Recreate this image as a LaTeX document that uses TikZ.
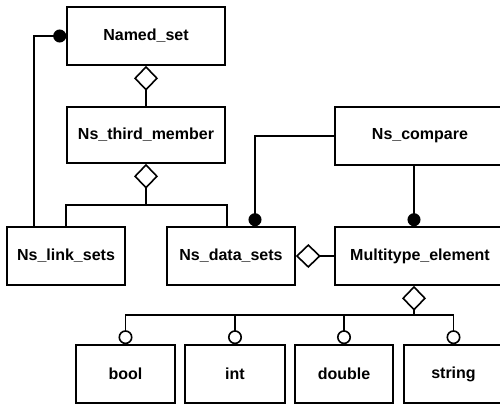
\documentclass[tikz,border=0pt]{standalone}
\usepackage{fontspec}
\setmainfont{Liberation Sans}
\usetikzlibrary{arrows.meta}

\begin{document}
\begin{tikzpicture}[x=1pt, y=-1pt, line width=1.6pt,
  cls/.style={draw, rectangle, minimum height=58pt, inner sep=2pt, font=\fontsize{16}{19}\selectfont\bfseries},
  agg/.style={{Diamond[open,length=25pt,width=24pt]}-},
  dot/.style={-{Circle[length=13pt]}},
  opt/.style={-{Circle[open,length=14pt]}}]
\useasboundingbox (0,0) rectangle (500,405);
\node[cls, minimum width=158pt](ns) at (146,36){Named\_set};
\node[cls, minimum width=158pt, minimum height=56pt](tm) at (146,135){Ns\_third\_member};
\node[cls, minimum width=118pt](ls) at (66,256){Ns\_link\_sets};
\node[cls, minimum width=128pt](ds) at (231,256){Ns\_data\_sets};
\node[cls, minimum width=170pt](me) at (420,256){Multitype\_element};
\node[cls, minimum width=170pt](cmp) at (420,136){Ns\_compare};
\node[cls, minimum width=99pt](bool) at (125.5,374){bool};
\node[cls, minimum width=100pt](int) at (235,374){int};
\node[cls, minimum width=98pt](dbl) at (344,374){double};
\node[cls, minimum width=99pt](str) at (453.5,374){string};
\coordinate (j1) at (146,205);
\coordinate (j2) at (414,315);
% aggregation
\draw[agg] (ns.south) -- (tm.north);
\draw[agg] (tm.south) -- (j1);
\draw (ls.north) |- (j1) -| ([xshift=-4pt]ds.north);
\draw[agg] (ds.east) -- (me.west);
\draw[agg] ([xshift=-6pt]me.south) -- (j2);
% links
\draw[dot] ([xshift=28pt]ls.north west) |- (ns.west);
\draw[dot] (cmp.west) -| ([xshift=24pt]ds.north);
\draw[dot] ([xshift=-6pt]cmp.south) -- ([xshift=-6pt]me.north);
% types
\draw[opt] (j2) -| (bool.north);
\draw[opt] (j2) -| (int.north);
\draw[opt] (j2) -| (dbl.north);
\draw[opt] (j2) -| (str.north);
\end{tikzpicture}
\end{document}
